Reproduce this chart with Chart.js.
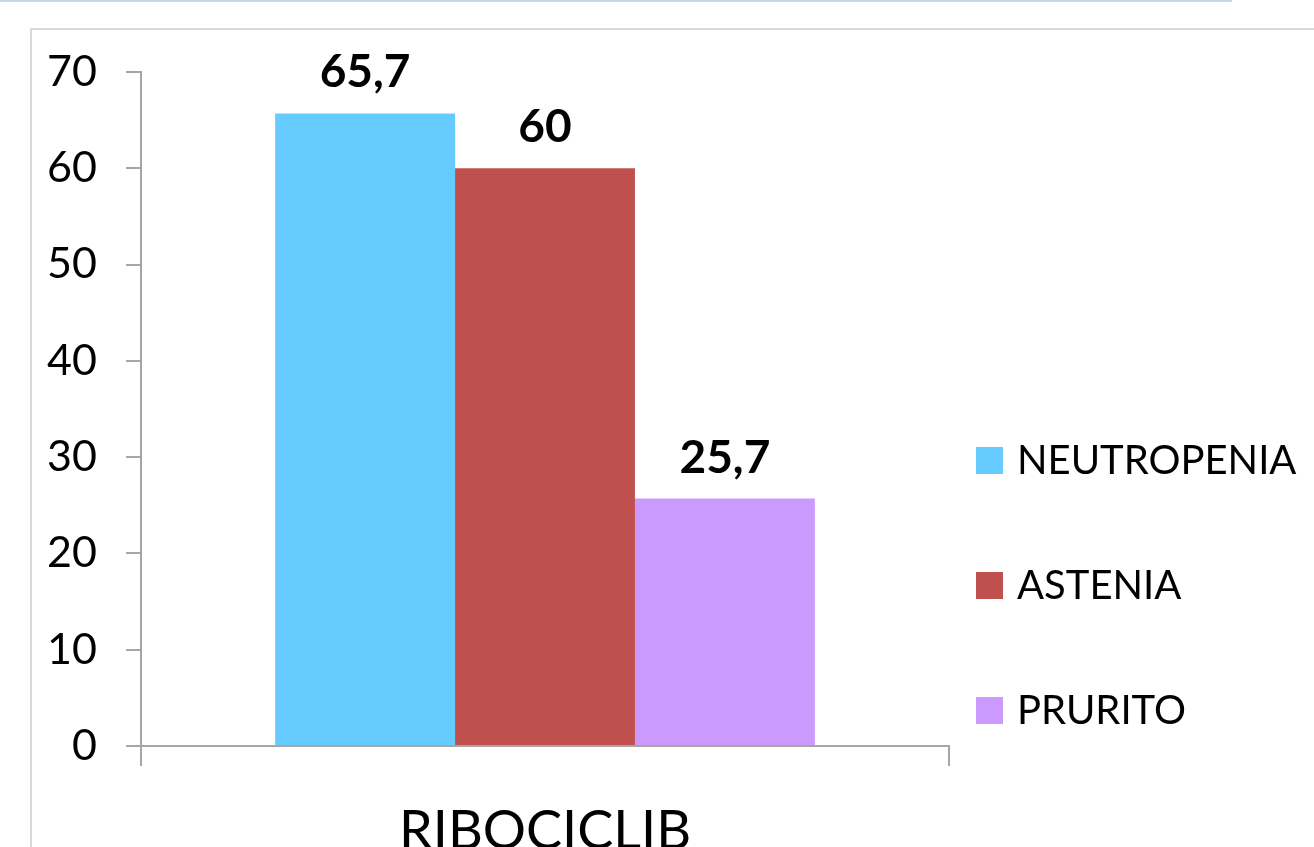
<!DOCTYPE html>
<html>
<head>
<meta charset="utf-8">
<script src="https://cdn.jsdelivr.net/npm/chart.js@4/dist/chart.umd.min.js"></script>
<style>
  html, body { margin: 0; padding: 0; background: #fff; overflow: hidden; }
  .topline { position: absolute; left: 0; top: 0; width: 1232px; height: 2px; background: #c8d6ea; }
  .frame { position: absolute; left: 30px; top: 28px; right: -10px; bottom: -10px;
           border-top: 2px solid #d9d9d9; border-left: 2px solid #d9d9d9; }
  .wrap { position: absolute; left: 0; top: 0; width: 1314px; height: 847px; }
</style>
</head>
<body>
<div class="topline"></div>
<div class="frame"></div>
<div class="wrap"><canvas id="chart"></canvas></div>
<script>
const categories = ['RIBOCICLIB'];
const seriesNames = ['NEUTROPENIA', 'ASTENIA', 'PRURITO'];
const neutropenia = [65.7];
const astenia = [60];
const prurito = [25.7];
const seriesColors = ['#66CCFF', '#C0504D', '#CC99FF'];
const yMin = 0;
const yMax = 70;
const yStep = 10;

const FONT = 'Lato, "Open Sans", sans-serif';
const axisColor = '#a6a6a6';

// value labels above bars, comma decimals
const valueLabels = {
  id: 'valueLabels',
  afterDatasetsDraw(chart) {
    const ctx = chart.ctx;
    ctx.save();
    ctx.font = 'bold 46px ' + FONT;
    ctx.fillStyle = '#000';
    ctx.textAlign = 'center';
    ctx.textBaseline = 'alphabetic';
    chart.data.datasets.forEach((ds, i) => {
      chart.getDatasetMeta(i).data.forEach((bar, j) => {
        const txt = String(ds.data[j]).replace('.', ',');
        ctx.fillText(txt, bar.x, bar.y - 26);
      });
    });
    ctx.restore();
  }
};

// legend on the right, drawn from the datasets
const sideLegend = {
  id: 'sideLegend',
  afterDraw(chart) {
    const ctx = chart.ctx;
    const area = chart.chartArea;
    const size = 40;
    const x = area.right + 27;
    let y = area.bottom - 286;
    ctx.save();
    ctx.font = size + 'px ' + FONT;
    ctx.textAlign = 'left';
    ctx.textBaseline = 'alphabetic';
    chart.data.datasets.forEach(ds => {
      ctx.fillStyle = ds.backgroundColor;
      ctx.fillRect(x, y - 13, 27, 27);
      ctx.fillStyle = '#000';
      ctx.fillText(ds.label, x + 41, y + size * 0.358);
      y += 125;
    });
    ctx.restore();
  }
};

function draw() {
  const ctx = document.getElementById('chart').getContext('2d');
  new Chart(ctx, {
    type: 'bar',
    data: {
      labels: categories,
      datasets: [
        { label: seriesNames[0], data: neutropenia, backgroundColor: seriesColors[0] },
        { label: seriesNames[1], data: astenia, backgroundColor: seriesColors[1] },
        { label: seriesNames[2], data: prurito, backgroundColor: seriesColors[2] },
      ],
    },
    options: {
      responsive: true,
      maintainAspectRatio: false,
      animation: false,
      datasets: {
        bar: { categoryPercentage: 0.668, barPercentage: 1, borderWidth: 0 },
      },
      layout: { padding: { top: 72, right: 365, left: 0, bottom: 0 } },
      plugins: {
        legend: { display: false },
        tooltip: { enabled: false },
      },
      scales: {
        x: {
          grid: { offset: true, drawOnChartArea: false, drawTicks: true, tickLength: 20, color: axisColor, lineWidth: 2 },
          border: { display: true, color: axisColor, width: 2 },
          ticks: { color: '#000', font: { family: FONT, size: 54 }, padding: 33 },
          afterFit(scale) { scale.height = 101; },
        },
        y: {
          min: yMin,
          max: yMax,
          grid: { drawOnChartArea: false, drawTicks: true, tickLength: 15, color: axisColor, lineWidth: 2 },
          border: { display: true, color: axisColor, width: 2 },
          ticks: { stepSize: yStep, color: '#000', font: { family: FONT, size: 43 }, padding: 29 },
          afterFit(scale) { scale.width = 141; },
        },
      },
    },
    plugins: [valueLabels, sideLegend],
  });
}

if (document.fonts && document.fonts.load) {
  Promise.all([
    document.fonts.load('42px Lato'),
    document.fonts.load('bold 46px Lato'),
  ]).then(draw, draw);
} else {
  draw();
}
</script>
</body>
</html>
